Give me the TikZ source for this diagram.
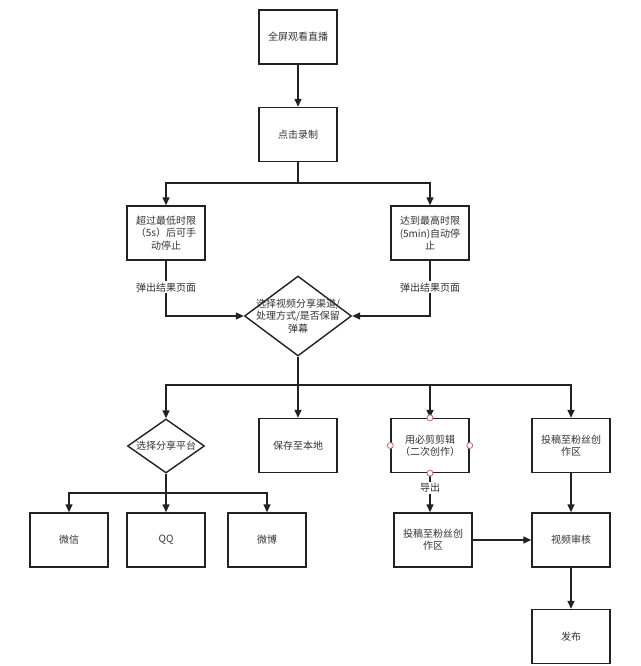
\documentclass[tikz,border=0pt]{standalone}
\usepackage{fontspec}
\setmainfont{Noto Sans CJK SC}
\usetikzlibrary{shapes.geometric,arrows.meta}
\definecolor{linec}{HTML}{222222}
\definecolor{textc}{HTML}{333333}
\definecolor{circc}{HTML}{C86464}
\begin{document}
\begin{tikzpicture}[x=1pt,y=-1pt,
  txt/.style={font=\fontsize{10}{12.3}\selectfont, text=textc, align=center},
  box/.style={txt, draw=linec, line width=1.4pt, fill=white, minimum width=78pt, minimum height=54pt, inner sep=0pt},
  dia/.style={diamond, draw=linec, line width=1.4pt, fill=white, inner sep=0pt},
  arr/.style={-{Triangle[length=8pt,width=7pt]}, line width=1.4pt, draw=linec},
  ln/.style={line width=1.4pt, draw=linec},
  lbl/.style={txt, fill=white, inner sep=1.5pt},
  circ/.style={draw=circc, fill=white, line width=0.8pt}]
\fill[white] (0,0) rectangle (640,666);
\useasboundingbox (0,0) rectangle (640,666);

\node[box] (watch) at (298,37) {全屏观看直播};
\node[box] (rec) at (298,134.5) {点击录制};
\node[box] (minT) at (166,233) {超过最低时限\\（5s）后可手\\动停止};
\node[box] (maxT) at (430,233) {达到最高时限\\(5min)自动停\\止};
\node[dia, minimum width=107pt, minimum height=80pt] (choose) at (298,316) {};
\node[txt] (chooset) at (choose.center) {选择视频分享渠道/\\处理方式/是否保留\\弹幕};
\node[dia, minimum width=77pt, minimum height=54pt] (platform) at (166,446) {};
\node[txt] (platformt) at (platform.center) {选择分享平台};
\node[box] (local) at (298,445.5) {保存至本地};
\node[box] (edit) at (430,445.5) {用必剪剪辑\\（二次创作）};
\node[box] (post1) at (571,445.5) {投稿至粉丝创\\作区};
\node[box] (wx) at (69,540) {微信};
\node[box] (qq) at (166,540) {QQ};
\node[box] (wb) at (267,540) {微博};
\node[box] (post2) at (433,540) {投稿至粉丝创\\作区};
\node[box] (review) at (571,540) {视频审核};
\node[box] (pub) at (571,636.5) {发布};

\draw[arr] (watch) -- (rec);
\coordinate (j1) at (298,183);
\draw[ln] (rec.south) -- (j1);
\draw[arr] (j1) -| (minT.north);
\draw[arr] (j1) -| (maxT.north);
\draw[arr] (minT.south) |- (choose.west) node[lbl, pos=0.24] {弹出结果页面};
\draw[arr] (maxT.south) |- (choose.east) node[lbl, pos=0.24] {弹出结果页面};

\coordinate (j2) at (298,385);
\draw[ln] (choose.south) -- (j2);
\draw[arr] (j2) -| (platform.north);
\draw[arr] (j2) -- (local.north);
\draw[arr] (j2) -| (edit.north);
\draw[arr] (j2) -| (post1.north);

\coordinate (j3) at (166,493);
\draw[ln] (platform.south) -- (j3);
\draw[arr] (j3) -| (wx.north);
\draw[arr] (j3) -- (qq.north);
\draw[arr] (j3) -| (wb.north);

\draw[arr] (edit.south) -- (edit.south |- post2.north) node[lbl, pos=0.38] {导出};
\draw[arr] (post1) -- (review);
\draw[arr] (post2) -- (review);
\draw[arr] (review) -- (pub);

\foreach \a in {north,south,east,west} \draw[circ] (edit.\a) circle (3pt);
\end{tikzpicture}
\end{document}
